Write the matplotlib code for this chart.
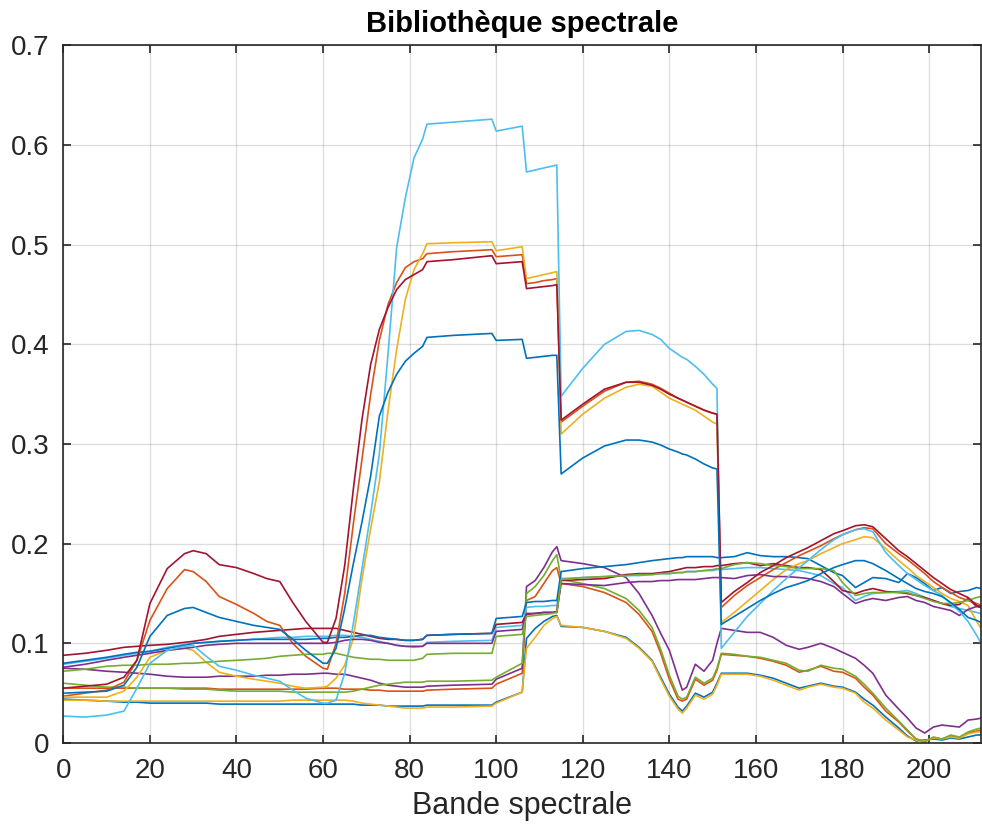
#!/usr/bin/env python3
# Bibliotheque spectrale : 15 spectres de reflectance
import numpy as np
import matplotlib
matplotlib.use('Agg')
import matplotlib.pyplot as plt

# bandes ou les valeurs ont ete relevees
bands = [0, 5, 10, 14, 17, 20, 24, 28, 30, 33,
         36, 40, 44, 47, 50, 53, 56, 60, 61, 63,
         65, 67, 69, 71, 73, 75, 77, 79, 81, 83,
         84, 90, 99, 100, 106, 107, 109, 111, 113, 114,
         115, 120, 125, 130, 133, 136, 138, 140, 142, 143,
         144, 146, 148, 150, 151, 152, 155, 158, 161, 164,
         167, 170, 172, 175, 178, 180, 183, 185, 187, 190,
         193, 195, 197, 199, 201, 203, 205, 207, 209, 211,
         212]

low_blue = [0.044, 0.043, 0.042, 0.041, 0.041, 0.040, 0.040, 0.040, 0.040, 0.040,
            0.039, 0.039, 0.039, 0.039, 0.039, 0.039, 0.039, 0.039, 0.039, 0.039,
            0.039, 0.039, 0.038, 0.038, 0.038, 0.037, 0.037, 0.037, 0.037, 0.037,
            0.038, 0.038, 0.038, 0.041, 0.051, 0.105, 0.115, 0.122, 0.127, 0.128,
            0.117, 0.116, 0.112, 0.106, 0.096, 0.083, 0.066, 0.049, 0.036, 0.032,
            0.037, 0.050, 0.046, 0.051, 0.060, 0.070, 0.070, 0.070, 0.068, 0.065,
            0.060, 0.055, 0.057, 0.060, 0.057, 0.056, 0.051, 0.044, 0.038, 0.026,
            0.015, 0.007, 0.002, 0.003, 0.004, 0.003, 0.005, 0.004, 0.006, 0.008,
            0.008]

low_orange = [0.055, 0.055, 0.055, 0.055, 0.055, 0.055, 0.055, 0.055, 0.055, 0.055,
              0.054, 0.054, 0.054, 0.054, 0.054, 0.054, 0.054, 0.055, 0.055, 0.055,
              0.054, 0.054, 0.054, 0.053, 0.053, 0.052, 0.052, 0.052, 0.052, 0.052,
              0.053, 0.054, 0.055, 0.059, 0.070, 0.143, 0.147, 0.160, 0.173, 0.176,
              0.160, 0.157, 0.151, 0.141, 0.129, 0.112, 0.090, 0.064, 0.044, 0.042,
              0.044, 0.064, 0.058, 0.063, 0.073, 0.089, 0.088, 0.087, 0.085, 0.082,
              0.078, 0.071, 0.073, 0.077, 0.072, 0.071, 0.065, 0.056, 0.048, 0.032,
              0.021, 0.012, 0.004, 0.002, 0.005, 0.004, 0.007, 0.005, 0.010, 0.012,
              0.013]

low_yellow = [0.043, 0.043, 0.042, 0.042, 0.042, 0.042, 0.042, 0.042, 0.042, 0.042,
              0.042, 0.042, 0.042, 0.042, 0.042, 0.043, 0.043, 0.043, 0.043, 0.043,
              0.043, 0.042, 0.040, 0.039, 0.038, 0.037, 0.036, 0.035, 0.035, 0.035,
              0.036, 0.036, 0.037, 0.040, 0.051, 0.095, 0.106, 0.118, 0.125, 0.127,
              0.118, 0.116, 0.112, 0.105, 0.095, 0.082, 0.064, 0.047, 0.034, 0.030,
              0.035, 0.048, 0.044, 0.049, 0.058, 0.069, 0.069, 0.069, 0.067, 0.063,
              0.058, 0.053, 0.056, 0.059, 0.056, 0.055, 0.050, 0.041, 0.035, 0.023,
              0.013, 0.006, 0.003, 0.002, 0.005, 0.004, 0.006, 0.005, 0.009, 0.011,
              0.011]

low_purple = [0.075, 0.074, 0.072, 0.071, 0.070, 0.069, 0.067, 0.066, 0.066, 0.066,
              0.067, 0.067, 0.067, 0.068, 0.068, 0.069, 0.069, 0.070, 0.070, 0.069,
              0.069, 0.067, 0.065, 0.063, 0.060, 0.058, 0.057, 0.056, 0.056, 0.056,
              0.057, 0.058, 0.059, 0.064, 0.075, 0.157, 0.163, 0.176, 0.192, 0.197,
              0.183, 0.180, 0.176, 0.166, 0.150, 0.128, 0.110, 0.093, 0.066, 0.053,
              0.056, 0.079, 0.072, 0.083, 0.100, 0.115, 0.113, 0.111, 0.111, 0.106,
              0.098, 0.094, 0.096, 0.100, 0.095, 0.091, 0.085, 0.078, 0.070, 0.048,
              0.034, 0.025, 0.015, 0.010, 0.016, 0.018, 0.017, 0.016, 0.023, 0.024,
              0.025]

low_green = [0.060, 0.058, 0.056, 0.056, 0.055, 0.055, 0.055, 0.054, 0.054, 0.054,
             0.053, 0.052, 0.052, 0.052, 0.052, 0.051, 0.051, 0.051, 0.051, 0.051,
             0.051, 0.052, 0.054, 0.056, 0.058, 0.059, 0.060, 0.061, 0.061, 0.061,
             0.062, 0.062, 0.063, 0.066, 0.080, 0.150, 0.157, 0.168, 0.183, 0.189,
             0.164, 0.160, 0.155, 0.145, 0.133, 0.116, 0.094, 0.068, 0.047, 0.044,
             0.046, 0.066, 0.060, 0.065, 0.075, 0.090, 0.089, 0.087, 0.086, 0.083,
             0.080, 0.073, 0.072, 0.078, 0.075, 0.074, 0.067, 0.059, 0.050, 0.035,
             0.022, 0.013, 0.004, 0.001, 0.006, 0.004, 0.008, 0.006, 0.011, 0.014,
             0.015]

mid_lightblue = [0.079, 0.082, 0.085, 0.088, 0.090, 0.092, 0.096, 0.099, 0.100, 0.101,
                 0.102, 0.103, 0.104, 0.105, 0.106, 0.106, 0.107, 0.107, 0.107, 0.108,
                 0.108, 0.107, 0.106, 0.104, 0.102, 0.100, 0.098, 0.097, 0.096, 0.097,
                 0.101, 0.102, 0.103, 0.116, 0.118, 0.136, 0.137, 0.137, 0.138, 0.138,
                 0.165, 0.166, 0.167, 0.168, 0.168, 0.169, 0.170, 0.170, 0.171, 0.171,
                 0.172, 0.172, 0.173, 0.173, 0.174, 0.174, 0.175, 0.176, 0.176, 0.175,
                 0.174, 0.173, 0.171, 0.168, 0.160, 0.156, 0.143, 0.147, 0.150, 0.151,
                 0.152, 0.153, 0.150, 0.146, 0.143, 0.140, 0.137, 0.135, 0.133, 0.131,
                 0.130]

mid_darkred = [0.088, 0.090, 0.093, 0.096, 0.097, 0.098, 0.099, 0.101, 0.102, 0.104,
               0.107, 0.109, 0.111, 0.112, 0.113, 0.114, 0.115, 0.115, 0.115, 0.115,
               0.113, 0.111, 0.109, 0.107, 0.105, 0.104, 0.104, 0.103, 0.103, 0.104,
               0.108, 0.109, 0.110, 0.119, 0.121, 0.129, 0.130, 0.131, 0.131, 0.132,
               0.163, 0.164, 0.165, 0.169, 0.170, 0.170, 0.171, 0.172, 0.174, 0.175,
               0.176, 0.176, 0.177, 0.177, 0.178, 0.178, 0.180, 0.181, 0.178, 0.180,
               0.178, 0.176, 0.176, 0.174, 0.162, 0.153, 0.150, 0.153, 0.155, 0.152,
               0.151, 0.150, 0.148, 0.146, 0.143, 0.140, 0.138, 0.139, 0.145, 0.137,
               0.136]

mid_blue = [0.080, 0.083, 0.086, 0.089, 0.091, 0.092, 0.095, 0.098, 0.100, 0.101,
            0.102, 0.103, 0.104, 0.104, 0.104, 0.104, 0.104, 0.105, 0.105, 0.106,
            0.106, 0.107, 0.108, 0.108, 0.106, 0.105, 0.104, 0.103, 0.103, 0.104,
            0.108, 0.109, 0.110, 0.125, 0.127, 0.141, 0.142, 0.142, 0.143, 0.143,
            0.172, 0.175, 0.177, 0.179, 0.181, 0.183, 0.184, 0.185, 0.186, 0.186,
            0.187, 0.187, 0.187, 0.187, 0.186, 0.186, 0.187, 0.191, 0.188, 0.187,
            0.187, 0.186, 0.185, 0.178, 0.171, 0.168, 0.156, 0.161, 0.166, 0.165,
            0.161, 0.170, 0.166, 0.160, 0.153, 0.156, 0.150, 0.152, 0.153, 0.156,
            0.155]

tall_orange = [0.047, 0.050, 0.053, 0.061, 0.083, 0.123, 0.155, 0.174, 0.172, 0.162,
               0.147, 0.139, 0.130, 0.122, 0.118, 0.100, 0.087, 0.075, 0.074, 0.100,
               0.150, 0.220, 0.285, 0.350, 0.404, 0.440, 0.462, 0.477, 0.483, 0.486,
               0.491, 0.493, 0.495, 0.488, 0.490, 0.461, 0.462, 0.464, 0.465, 0.466,
               0.322, 0.338, 0.353, 0.362, 0.363, 0.360, 0.356, 0.351, 0.346, 0.344,
               0.342, 0.338, 0.334, 0.331, 0.330, 0.136, 0.148, 0.158, 0.166, 0.174,
               0.181, 0.188, 0.192, 0.198, 0.205, 0.209, 0.214, 0.216, 0.215, 0.200,
               0.190, 0.184, 0.177, 0.170, 0.162, 0.156, 0.151, 0.146, 0.143, 0.140,
               0.138]

tall_yellow = [0.046, 0.046, 0.046, 0.052, 0.066, 0.086, 0.093, 0.095, 0.093, 0.081,
               0.071, 0.067, 0.064, 0.062, 0.060, 0.057, 0.055, 0.056, 0.057, 0.065,
               0.078, 0.105, 0.165, 0.215, 0.262, 0.333, 0.395, 0.445, 0.475, 0.491,
               0.501, 0.502, 0.503, 0.494, 0.498, 0.466, 0.468, 0.470, 0.472, 0.473,
               0.310, 0.330, 0.346, 0.357, 0.360, 0.358, 0.352, 0.346, 0.342, 0.340,
               0.338, 0.334, 0.328, 0.322, 0.320, 0.121, 0.131, 0.142, 0.153, 0.164,
               0.174, 0.180, 0.183, 0.190, 0.196, 0.200, 0.204, 0.207, 0.206, 0.195,
               0.183, 0.176, 0.168, 0.162, 0.156, 0.150, 0.145, 0.142, 0.138, 0.122,
               0.115]

mid_purple = [0.076, 0.079, 0.083, 0.086, 0.088, 0.090, 0.093, 0.095, 0.096, 0.098,
              0.099, 0.100, 0.100, 0.100, 0.100, 0.100, 0.100, 0.100, 0.100, 0.101,
              0.103, 0.104, 0.104, 0.103, 0.101, 0.100, 0.098, 0.097, 0.097, 0.097,
              0.100, 0.100, 0.100, 0.112, 0.114, 0.130, 0.130, 0.131, 0.131, 0.131,
              0.160, 0.159, 0.158, 0.161, 0.162, 0.162, 0.163, 0.163, 0.164, 0.164,
              0.164, 0.164, 0.165, 0.166, 0.166, 0.166, 0.165, 0.168, 0.169, 0.167,
              0.167, 0.166, 0.165, 0.162, 0.157, 0.150, 0.140, 0.143, 0.145, 0.143,
              0.146, 0.147, 0.143, 0.141, 0.137, 0.135, 0.133, 0.128, 0.134, 0.137,
              0.138]

mid_green = [0.072, 0.074, 0.077, 0.078, 0.078, 0.079, 0.079, 0.080, 0.080, 0.081,
             0.082, 0.083, 0.084, 0.085, 0.087, 0.088, 0.089, 0.089, 0.090, 0.090,
             0.088, 0.086, 0.085, 0.084, 0.084, 0.083, 0.083, 0.083, 0.083, 0.085,
             0.089, 0.090, 0.090, 0.107, 0.109, 0.127, 0.128, 0.129, 0.130, 0.131,
             0.164, 0.166, 0.167, 0.168, 0.169, 0.169, 0.170, 0.170, 0.171, 0.171,
             0.172, 0.172, 0.173, 0.174, 0.175, 0.175, 0.179, 0.181, 0.180, 0.178,
             0.177, 0.175, 0.175, 0.175, 0.173, 0.161, 0.148, 0.150, 0.151, 0.151,
             0.151, 0.151, 0.148, 0.145, 0.142, 0.140, 0.140, 0.141, 0.143, 0.146,
             0.147]

tall_lightblue = [0.027, 0.026, 0.028, 0.032, 0.055, 0.080, 0.093, 0.097, 0.098, 0.087,
                  0.077, 0.073, 0.068, 0.065, 0.062, 0.053, 0.045, 0.040, 0.040, 0.043,
                  0.070, 0.120, 0.175, 0.230, 0.290, 0.390, 0.497, 0.547, 0.587, 0.606,
                  0.621, 0.623, 0.626, 0.614, 0.619, 0.573, 0.575, 0.577, 0.579, 0.580,
                  0.348, 0.376, 0.400, 0.413, 0.414, 0.410, 0.405, 0.396, 0.390, 0.387,
                  0.385, 0.378, 0.370, 0.360, 0.356, 0.095, 0.111, 0.127, 0.140, 0.153,
                  0.165, 0.176, 0.183, 0.194, 0.204, 0.209, 0.214, 0.215, 0.212, 0.191,
                  0.178, 0.170, 0.164, 0.158, 0.153, 0.148, 0.140, 0.132, 0.122, 0.108,
                  0.100]

tall_darkred = [0.055, 0.057, 0.059, 0.066, 0.083, 0.140, 0.175, 0.190, 0.193, 0.190,
                0.179, 0.176, 0.170, 0.165, 0.162, 0.141, 0.122, 0.101, 0.101, 0.125,
                0.178, 0.255, 0.325, 0.380, 0.415, 0.437, 0.455, 0.465, 0.470, 0.475,
                0.483, 0.485, 0.489, 0.481, 0.483, 0.456, 0.457, 0.458, 0.459, 0.460,
                0.324, 0.340, 0.355, 0.362, 0.362, 0.359, 0.355, 0.350, 0.346, 0.344,
                0.342, 0.338, 0.334, 0.331, 0.330, 0.141, 0.152, 0.161, 0.171, 0.178,
                0.186, 0.192, 0.196, 0.203, 0.210, 0.213, 0.218, 0.219, 0.217, 0.205,
                0.193, 0.187, 0.180, 0.173, 0.166, 0.160, 0.154, 0.150, 0.146, 0.138,
                0.136]

tall_blue = [0.050, 0.051, 0.052, 0.058, 0.076, 0.107, 0.128, 0.135, 0.136, 0.131,
             0.126, 0.122, 0.118, 0.116, 0.114, 0.104, 0.093, 0.080, 0.080, 0.095,
             0.135, 0.180, 0.222, 0.268, 0.328, 0.352, 0.370, 0.383, 0.391, 0.398,
             0.407, 0.409, 0.411, 0.404, 0.405, 0.386, 0.387, 0.388, 0.389, 0.389,
             0.270, 0.286, 0.298, 0.304, 0.304, 0.302, 0.299, 0.295, 0.292, 0.290,
             0.289, 0.285, 0.280, 0.276, 0.275, 0.119, 0.127, 0.135, 0.143, 0.150,
             0.156, 0.160, 0.163, 0.170, 0.176, 0.179, 0.183, 0.183, 0.180, 0.173,
             0.165, 0.160, 0.155, 0.152, 0.150, 0.147, 0.141, 0.134, 0.126, 0.123,
             0.121]

# couleurs par defaut de MATLAB, dans l'ordre de trace
spectres = [low_blue, low_orange, low_yellow, low_purple, low_green,
            mid_lightblue, mid_darkred, mid_blue, tall_orange, tall_yellow,
            mid_purple, mid_green, tall_lightblue, tall_darkred, tall_blue]
couleurs = ['#0072BD', '#D95319', '#EDB120', '#7E2F8E', '#77AC30',
            '#4DBEEE', '#A2142F', '#0072BD', '#D95319', '#EDB120',
            '#7E2F8E', '#77AC30', '#4DBEEE', '#A2142F', '#0072BD']

x_ticks = [0, 20, 40, 60, 80, 100, 120, 140, 160, 180, 200]
y_ticks = [0, 0.1, 0.2, 0.3, 0.4, 0.5, 0.6, 0.7]
y_labels = ['0', '0.1', '0.2', '0.3', '0.4', '0.5', '0.6', '0.7']


def plot_library():
  plt.rcParams['font.family'] = ['Liberation Sans', 'DejaVu Sans']
  fig = plt.figure(figsize=(9.82, 8.26), dpi=100)
  ax = fig.add_axes([0.0645, 0.1005, 0.9345, 0.8445])

  for spec, col in zip(spectres, couleurs):
    ax.plot(bands, spec, color=col, linewidth=1.2)

  ax.set_xlim(0, 212)
  ax.set_ylim(0, 0.7)
  ax.set_xticks(x_ticks)
  ax.set_yticks(y_ticks)
  ax.set_yticklabels(y_labels)
  ax.tick_params(direction='in', length=6, width=1.2, colors='#262626',
                 labelsize=20, top=True, right=True)
  ax.tick_params(axis='x', pad=11)
  ax.tick_params(axis='y', pad=10)
  ax.grid(True, color='#262626', alpha=0.15, linewidth=1.0)
  ax.set_axisbelow(True)
  for s in ax.spines.values():
    s.set_color('#262626')
    s.set_linewidth(1.2)

  ax.set_xlabel('Bande spectrale', fontsize=22, color='#262626', labelpad=5)
  ax.set_title('Bibliothèque spectrale', fontsize=21, fontweight='bold', pad=10)

  fig.savefig('out.png', dpi=100, facecolor='white')


if __name__ == '__main__':
  plot_library()
